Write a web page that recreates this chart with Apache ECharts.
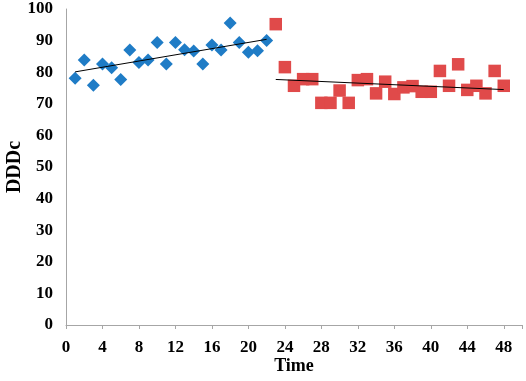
<!DOCTYPE html>
<html>
<head>
<meta charset="utf-8">
<script src="https://cdn.jsdelivr.net/npm/echarts@6/dist/echarts.min.js"></script>
<style>
	html, body { margin: 0; padding: 0; background: #fff; }
	#chart { width: 526px; height: 381px; }
</style>
</head>
<body>
<div id="chart"></div>
<script>
// 前半段 (蓝色菱形)
var blueTime = [1, 2, 3, 4, 5, 6, 7, 8, 9, 10, 11, 12, 13, 14, 15, 16, 17, 18, 19, 20, 21, 22];
var blueDDDc = [78.1, 83.9, 75.9, 82.6, 81.4, 77.7, 87, 83.1, 83.9, 89.4, 82.6, 89.4, 87.1, 86.7, 82.6, 88.6, 87, 95.6, 89.4, 86.3, 86.8, 90];
// 后半段 (红色方块)
var redTime = [23, 24, 25, 26, 27, 28, 29, 30, 31, 32, 33, 34, 35, 36, 37, 38, 39, 40, 41, 42, 43, 44, 45, 46, 47, 48];
var redDDDc = [95.2, 81.6, 75.7, 77.8, 77.8, 70.3, 70.3, 74.2, 70.3, 77.5, 77.8, 73.3, 77, 73.1, 75.2, 75.6, 73.8, 73.8, 80.4, 75.7, 82.5, 74.4, 75.7, 73.3, 80.4, 75.7];
// 趋势线端点
var blueTrend = [[1, 80.1], [22, 90.4]];
var redTrend = [[23, 77.7], [48, 74.5]];

function pairs(xs, ys) {
	var out = [];
	for (var i = 0; i < xs.length; i++) {
		out.push([xs[i], ys[i]]);
	}
	return out;
}

var chart = echarts.init(document.getElementById('chart'));
var font = '"Liberation Serif", "Times New Roman", serif';
var option = {
	animation: false,
	grid: { left: 66, right: 4, top: 9, bottom: 56, containLabel: false, outerBoundsMode: 'none' },
	xAxis: {
		type: 'value',
		min: 0,
		max: 50,
		interval: 4,
		name: 'Time',
		nameLocation: 'middle',
		nameGap: 32,
		nameMoveOverlap: false,
		nameTextStyle: { fontFamily: font, fontWeight: 'bold', fontSize: 18, color: '#000' },
		splitLine: { show: false },
		axisLine: { lineStyle: { color: '#a6a6a6', width: 1 } },
		axisTick: { show: true, length: 4, lineStyle: { color: '#a6a6a6' } },
		axisLabel: {
			fontFamily: font, fontWeight: 'bold', fontSize: 17, color: '#000', margin: 14,
			formatter: function(v) { return v > 48 ? '' : v; }
		}
	},
	yAxis: {
		type: 'value',
		min: 0,
		max: 100,
		interval: 10,
		name: 'DDDc',
		nameLocation: 'middle',
		nameGap: 41,
		nameRotate: 90,
		nameMoveOverlap: false,
		nameTextStyle: { fontFamily: font, fontWeight: 'bold', fontSize: 20, color: '#000' },
		splitLine: { show: false },
		axisLine: { show: true, lineStyle: { color: '#a6a6a6', width: 1 } },
		axisTick: { show: false },
		axisLabel: { fontFamily: font, fontWeight: 'bold', fontSize: 17, color: '#000', margin: 13 }
	},
	series: [{
		type: 'scatter',
		symbol: 'diamond',
		symbolSize: 13,
		itemStyle: { color: '#1f7cc6', opacity: 1 },
		data: pairs(blueTime, blueDDDc),
		z: 2
	}, {
		type: 'scatter',
		symbol: 'rect',
		symbolSize: 12.5,
		itemStyle: { color: '#e04a4a', opacity: 1 },
		data: pairs(redTime, redDDDc),
		z: 2
	}, {
		type: 'line',
		symbol: 'none',
		lineStyle: { color: '#000', width: 1 },
		data: blueTrend,
		z: 3
	}, {
		type: 'line',
		symbol: 'none',
		lineStyle: { color: '#000', width: 1 },
		data: redTrend,
		z: 3
	}]
};
chart.setOption(option, true);
</script>
</body>
</html>
